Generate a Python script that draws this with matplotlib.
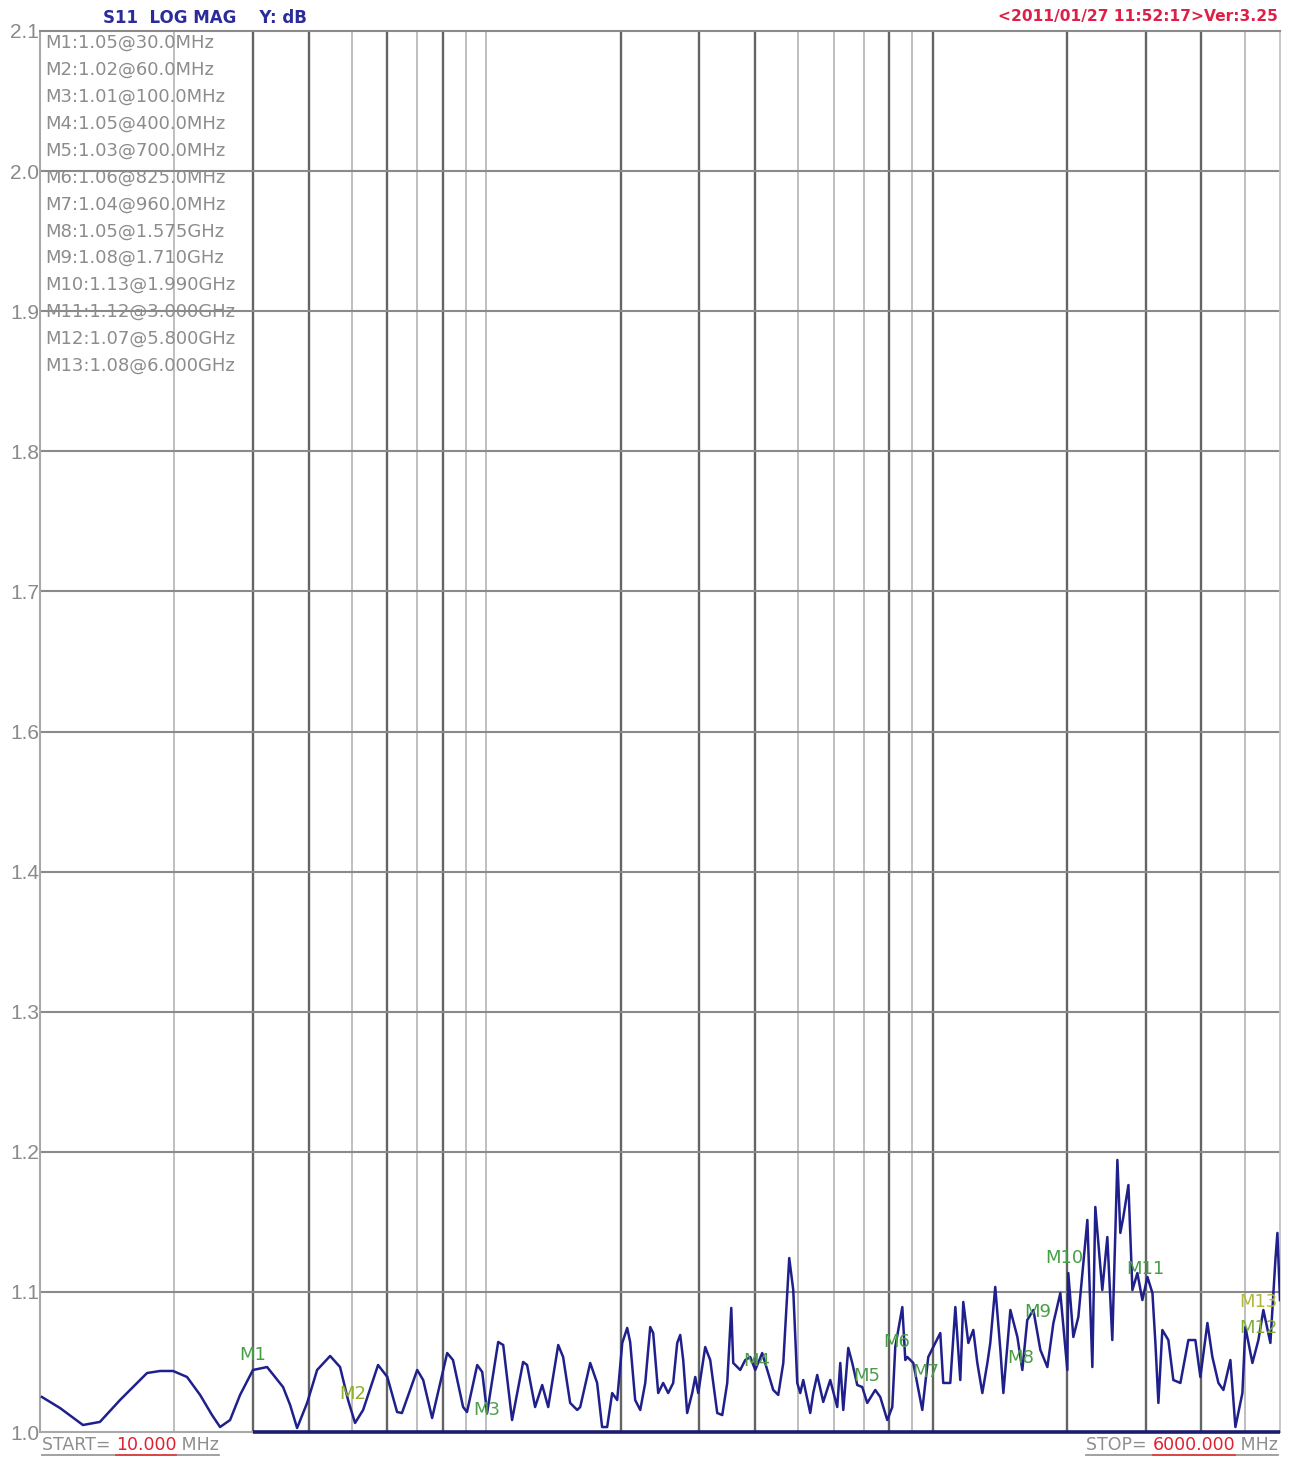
import numpy as np
import matplotlib
matplotlib.use('Agg')
import matplotlib.pyplot as plt
from matplotlib.lines import Line2D
from matplotlib.ticker import NullLocator

# ---------------- data ----------------
freq_mhz = [10.1, 11.09, 12.48, 13.62, 15.11, 17.37, 18.57, 19.87, 21.35, 22.84, 24.29, 25.32,
            26.66, 28.07, 30.0, 32.27, 35.04, 36.34, 37.67, 39.67, 41.77, 44.67, 47.02, 49.0,
            50.8, 52.96, 57.2, 60.0, 63.1, 64.7, 70.0, 72.2, 75.6, 81.7, 84.2, 88.7, 90.5,
            95.4, 97.9, 100.4, 106.3, 109.1, 114.2, 120.9, 123.4, 128.6, 133.4, 137.6, 144.9,
            148.6, 154.1, 159.8, 162.3, 170.9, 177.1, 181.7, 186.5, 191.4, 196.4, 201.6, 206.8,
            210.0, 215.5, 221.2, 227.0, 232.9, 236.5, 242.7, 249.0, 255.5, 262.2, 267.7, 271.9,
            276.1, 281.8, 289.2, 293.8, 298.4, 309.3, 317.4, 329.1, 337.7, 346.5, 353.8, 357.4,
            370.5, 380.2, 390.2, 400.4, 415.0, 425.9, 439.3, 450.8, 462.7, 477.1, 487.1, 497.3,
            505.0, 512.9, 531.7, 540.0, 551.2, 568.6, 589.5, 611.2, 620.8, 630.5, 647.0, 660.4,
            677.6, 695.3, 713.5, 743.6, 763.0, 791.1, 811.9, 824.5, 855.0, 868.3, 877.3, 904.8,
            947.8, 977.5, 1003, 1040, 1056, 1095, 1124, 1153, 1171, 1202, 1233, 1259, 1292,
            1326, 1346, 1381, 1418, 1440, 1493, 1548, 1588, 1629, 1681, 1743, 1807, 1864, 1932,
            2003, 2013, 2066, 2120, 2221, 2279, 2314, 2399, 2462, 2526, 2593, 2633, 2674, 2745,
            2802, 2875, 2950, 3028, 3107, 3155, 3204, 3270, 3373, 3461, 3589, 3740, 3877, 3979,
            4126, 4233, 4367, 4481, 4645, 4767, 4942, 5019, 5204, 5367, 5507, 5710, 5859, 5920,
            6000]
vswr = [1.0275, 1.0188, 1.0055, 1.0079, 1.0251, 1.0463, 1.0479, 1.0479, 1.0432, 1.0291, 1.0133,
        1.0039, 1.0094, 1.0291, 1.0487, 1.0510, 1.0353, 1.0212, 1.0031, 1.0228, 1.0487, 1.0597,
        1.0510, 1.0251, 1.0071, 1.0173, 1.0526, 1.0432, 1.0157, 1.0149, 1.0487, 1.0408, 1.0110,
        1.0620, 1.0565, 1.0196, 1.0157, 1.0526, 1.0471, 1.0149, 1.0707, 1.0683, 1.0094, 1.0550,
        1.0526, 1.0196, 1.0369, 1.0196, 1.0683, 1.0589, 1.0228, 1.0173, 1.0196, 1.0542, 1.0385,
        1.0039, 1.0039, 1.0306, 1.0251, 1.0699, 1.0817, 1.0707, 1.0251, 1.0173, 1.0385, 1.0824,
        1.0777, 1.0306, 1.0385, 1.0306, 1.0385, 1.0699, 1.0762, 1.0565, 1.0149, 1.0306, 1.0432,
        1.0306, 1.0667, 1.0565, 1.0149, 1.0133, 1.0385, 1.0974, 1.0542, 1.0487, 1.0565, 1.0589,
        1.0487, 1.0620, 1.0487, 1.0330, 1.0291, 1.0542, 1.1366, 1.1115, 1.0385, 1.0306, 1.0408,
        1.0149, 1.0306, 1.0448, 1.0236, 1.0408, 1.0196, 1.0542, 1.0173, 1.0660, 1.0542, 1.0369,
        1.0353, 1.0228, 1.0330, 1.0275, 1.0094, 1.0196, 1.0667, 1.0981, 1.0565, 1.0589, 1.0542,
        1.0173, 1.0589, 1.0667, 1.0777, 1.0385, 1.0385, 1.0981, 1.0408, 1.1021, 1.0699, 1.0801,
        1.0542, 1.0306, 1.0542, 1.0699, 1.1139, 1.0644, 1.0306, 1.0958, 1.0746, 1.0487, 1.0879,
        1.0958, 1.0644, 1.0510, 1.0856, 1.1091, 1.0487, 1.1248, 1.0746, 1.0903, 1.1665, 1.0510,
        1.1767, 1.1115, 1.1531, 1.0722, 1.2136, 1.1563, 1.1688, 1.1939, 1.1115, 1.1248, 1.1036,
        1.1217, 1.1091, 1.0699, 1.0228, 1.0801, 1.0722, 1.0408, 1.0385, 1.0722, 1.0722, 1.0432,
        1.0856, 1.0589, 1.0385, 1.0330, 1.0565, 1.0039, 1.0306, 1.0824, 1.0542, 1.0722, 1.0958,
        1.0699, 1.1351, 1.1563, 1.1036]

marker_names = ['M1', 'M2', 'M3', 'M4', 'M5', 'M6', 'M7', 'M8', 'M9', 'M10', 'M11', 'M12', 'M13']
marker_freq = [30, 60, 100, 400, 700, 825, 960, 1575, 1710, 1990, 3000, 5800, 6000]
marker_vals = [1.05, 1.02, 1.01, 1.05, 1.03, 1.06, 1.04, 1.05, 1.08, 1.13, 1.12, 1.07, 1.08]
marker_readout = ['M1:1.05@30.0MHz', 'M2:1.02@60.0MHz', 'M3:1.01@100.0MHz',
                  'M4:1.05@400.0MHz', 'M5:1.03@700.0MHz', 'M6:1.06@825.0MHz',
                  'M7:1.04@960.0MHz', 'M8:1.05@1.575GHz', 'M9:1.08@1.710GHz',
                  'M10:1.13@1.990GHz', 'M11:1.12@3.000GHz', 'M12:1.07@5.800GHz',
                  'M13:1.08@6.000GHz']

y_ticks = [1.0, 1.11, 1.22, 1.33, 1.44, 1.55, 1.66, 1.77, 1.88, 1.99, 2.1]
y_tick_labels = ['1.0', '1.1', '1.2', '1.3', '1.4', '1.6', '1.7', '1.8', '1.9', '2.0', '2.1']
grid_dark = [30, 40, 60, 80, 200, 300, 400, 800, 1000, 2000, 3000, 4000]
grid_light = [20, 50, 70, 90, 100, 500, 600, 700, 900, 5000]
f_start, f_stop = 10.0, 6000.0

header_left = 'S11  LOG MAG    Y: dB'
header_right = '<2011/01/27 11:52:17>Ver:3.25'
start_parts = ['START= ', '10.000', ' MHz']
stop_parts = ['STOP= ', '6000.000', ' MHz']

# ---------------- layout ----------------
W, H = 1290, 1458
fig = plt.figure(figsize=(W / 100, H / 100), dpi=100)
fig.patch.set_facecolor('white')


def fx(x):
    return x / W


def fy(y):
    return 1 - y / H


ax = fig.add_axes([fx(40), fy(1432), (1280 - 40) / W, (1432 - 31) / H])
ax.set_xscale('log')
ax.set_xlim(f_start, f_stop)
ax.set_ylim(y_ticks[0], y_ticks[-1])
ax.xaxis.set_major_locator(NullLocator())
ax.xaxis.set_minor_locator(NullLocator())
ax.set_yticks(y_ticks)
ax.set_yticklabels(y_tick_labels, fontsize=15, color='#8a8a8a', family='Liberation Sans')
ax.tick_params(axis='y', length=0, pad=0.5)
ax.tick_params(axis='x', length=0)

for f in grid_light:
    ax.axvline(f, color='#bababa', lw=1.3, zorder=1)
for f in grid_dark:
    ax.axvline(f, color='#646464', lw=1.7, zorder=1)
for yv in y_ticks[1:-1]:
    ax.axhline(yv, color='#8a8a8a', lw=1.5, zorder=1)

ax.spines['left'].set_color('#a8a8a8')
ax.spines['left'].set_linewidth(1.5)
ax.spines['top'].set_color('#8a8a8a')
ax.spines['top'].set_linewidth(1.5)
ax.spines['right'].set_color('#c4c4c4')
ax.spines['right'].set_linewidth(1.3)
ax.spines['bottom'].set_color('#a8a8a8')
ax.spines['bottom'].set_linewidth(1.5)

# navy base line from the first marker to the stop frequency
ax.plot([marker_freq[0], f_stop], [y_ticks[0], y_ticks[0]], color='#1c1c6e', lw=2.6,
        clip_on=False, zorder=4, solid_capstyle='butt')

# trace
ax.plot(freq_mhz, vswr, color='#20208c', lw=1.8, zorder=3)

# marker labels on trace
label_offsets_px = [(0, 13), (-35, 13), (0, 9), (2, 7), (3, 18), (1, 14), (1, 9), (0, 10),
                    (1, 18), (-2, 8), (0, 10), (-15, 15), (-22, 28)]
label_colors = ['#45a045', '#8fae2c', '#4f9e4f', '#4c9c4c', '#4c9c4c', '#45a045', '#4c9c4c',
                '#4c9c4c', '#45a045', '#45a045', '#45a045', '#7fae3a', '#b0b83a']
for name, f, v, off, c in zip(marker_names, marker_freq, marker_vals, label_offsets_px, label_colors):
    ax.annotate(name, (f, v), xytext=(off[0] * 0.72, off[1] * 0.72), textcoords='offset points',
                ha='center', va='center', fontsize=13, color=c, family='DejaVu Sans',
                zorder=5, annotation_clip=False)

# marker readout list (behind grid)
for i, t in enumerate(marker_readout):
    fig.text(fx(45), fy(43 + i * 26.9), t, ha='left', va='center', fontsize=13,
             color='#8c8c8c', family='DejaVu Sans', zorder=0.5)

# header
fig.text(fx(103), fy(18), header_left, ha='left', va='center', fontsize=12, fontweight='bold',
         color='#2b2b9c', family='DejaVu Sans')
fig.text(fx(1278), fy(17), header_right, ha='right', va='center', fontsize=11.2,
         fontweight='bold', color='#dc2048', family='DejaVu Sans')

# START / STOP with underline
fig.canvas.draw()
renderer = fig.canvas.get_renderer()


def colored_parts(parts, colors, x_px, y_px, align='left'):
    arts = []
    widths = []
    for p, c in zip(parts, colors):
        t = fig.text(0, 0, p, fontsize=12.5, color=c, family='DejaVu Sans', va='center',
                     ha='left')
        bb = t.get_window_extent(renderer)
        widths.append(bb.width)
        arts.append(t)
    total = sum(widths)
    x0 = x_px if align == 'left' else x_px - total
    cur = x0
    for t, w in zip(arts, widths):
        t.set_position((fx(cur), fy(y_px)))
        cur += w
    uy = y_px + 10
    fig.add_artist(Line2D([fx(x0), fx(x0 + total)], [fy(uy), fy(uy)], color='#9a9a9a', lw=1.3))
    fig.add_artist(Line2D([fx(x0 + widths[0]), fx(x0 + widths[0] + widths[1])], [fy(uy), fy(uy)],
                          color='#e04040', lw=1.3))


colored_parts(start_parts, ['#8e8e8e', '#e02030', '#8e8e8e'], 42, 1445, 'left')
colored_parts(stop_parts, ['#8e8e8e', '#e02030', '#8e8e8e'], 1278, 1445, 'right')

fig.savefig('out.png', dpi=100, facecolor='white')
